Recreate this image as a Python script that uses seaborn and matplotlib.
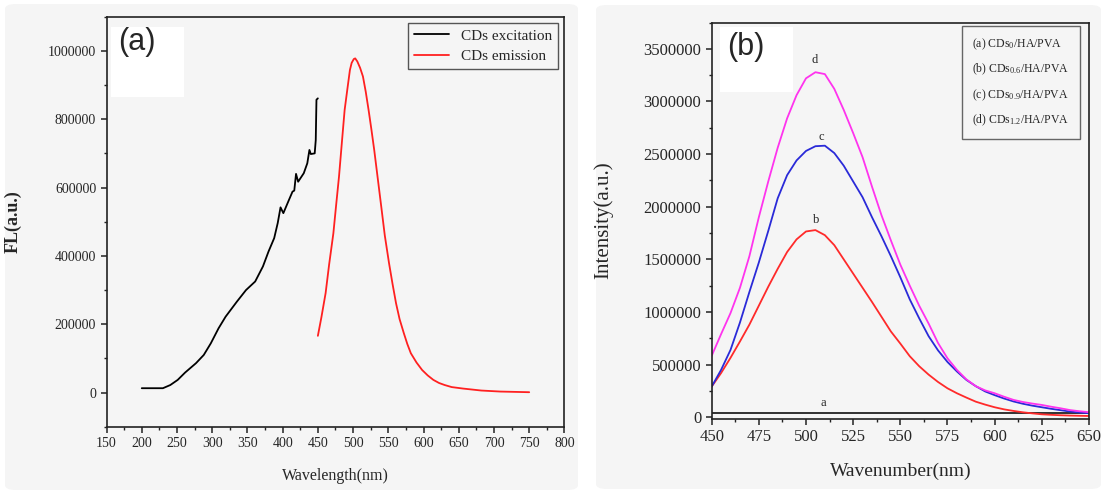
import matplotlib
matplotlib.use("Agg")
import matplotlib.pyplot as plt
from matplotlib.patches import FancyBboxPatch, Rectangle
from matplotlib.ticker import MultipleLocator, FuncFormatter
import seaborn as sns

# panel (a): excitation / emission spectra
exc_wl = [200, 230, 240.5, 251, 261.5, 277, 288, 298, 309, 319, 335, 348, 361, 372,
          380, 388, 393, 397, 401, 409, 414, 416.5, 419, 422, 430, 435, 438, 440,
          445.5, 447, 448, 450]
exc_fl = [12700, 12700, 22000, 37000, 58500, 86000, 110000, 144000, 188000, 222000,
          266000, 300000, 325000, 369000, 413000, 452000, 496000, 542000, 525000,
          564000, 588000, 591000, 640000, 617000, 642000, 671000, 710000, 698000,
          700000, 739000, 857000, 861000]
emi_wl = [450, 455, 461, 466, 472, 476, 480, 484, 488, 492, 495.5, 498, 501, 503, 506,
          510, 514, 518, 522, 526, 530, 535, 540, 545, 551, 556, 561, 566, 572, 577,
          582, 590, 598, 606, 614, 622, 630, 640, 656, 682, 709, 750]
emi_fl = [166000, 220000, 291000, 375000, 466000, 550000, 632000, 730000, 827000,
          890000, 944000, 965000, 976000, 978000, 969000, 950000, 925000, 880000,
          827000, 770000, 710000, 627000, 544000, 460000, 379000, 318000, 261000,
          215000, 174000, 142000, 115000, 88000, 66000, 50000, 37000, 28000, 22000,
          16000, 11700, 5900, 2900, 1000]

# panel (b): intensity of the four films, every 5 nm
wn = list(range(450, 651, 5))
int_a = [40000] * len(wn)
int_b = [291000, 420000, 565000, 720000, 880000, 1060000, 1240000, 1410000, 1570000,
         1690000, 1765000, 1778000, 1730000, 1635000, 1500000, 1365000, 1230000,
         1095000, 955000, 815000, 700000, 580000, 485000, 405000, 335000, 275000,
         228000, 187000, 148000, 120000, 95000, 75000, 60000, 47000, 37000, 28000,
         23000, 19000, 16000, 14000, 12000]
int_c = [291000, 450000, 640000, 900000, 1190000, 1470000, 1770000, 2080000, 2300000,
         2440000, 2530000, 2575000, 2580000, 2510000, 2390000, 2240000, 2090000,
         1900000, 1720000, 1530000, 1330000, 1120000, 940000, 770000, 635000, 525000,
         435000, 355000, 295000, 245000, 210000, 178000, 150000, 128000, 110000,
         95000, 80000, 67000, 54000, 45000, 38000]
int_d = [583000, 790000, 990000, 1230000, 1530000, 1900000, 2240000, 2560000, 2840000,
         3060000, 3220000, 3278000, 3260000, 3120000, 2920000, 2700000, 2470000,
         2190000, 1920000, 1680000, 1450000, 1250000, 1060000, 890000, 705000, 560000,
         450000, 360000, 295000, 255000, 228000, 195000, 165000, 145000, 130000,
         117000, 100000, 85000, 68000, 57000, 48000]
legend_b = ["(a) CDs$_{0}$/HA/PVA", "(b) CDs$_{0.6}$/HA/PVA",
            "(c) CDs$_{0.9}$/HA/PVA", "(d) CDs$_{1.2}$/HA/PVA"]

sns.set_style("ticks")
plt.rcParams["font.family"] = ["Liberation Serif", "DejaVu Serif"]
plt.rcParams["mathtext.default"] = "regular"

bg = "#f5f5f5"
fig = plt.figure(figsize=(11.03, 4.94), dpi=100)
fig.patch.set_facecolor("white")
fig.patches.append(FancyBboxPatch((5 / 1103, 4 / 494), 573 / 1103, 486 / 494,
                                  boxstyle="round,pad=0,rounding_size=0.01",
                                  transform=fig.transFigure, fc=bg, ec="none", zorder=-10))
fig.patches.append(FancyBboxPatch((596 / 1103, 5 / 494), 505 / 1103, 484 / 494,
                                  boxstyle="round,pad=0,rounding_size=0.01",
                                  transform=fig.transFigure, fc=bg, ec="none", zorder=-10))

ax1 = fig.add_axes([0.0966, 0.1362, 0.4151, 0.830])
ax2 = fig.add_axes([0.6452, 0.1528, 0.3421, 0.8016])

plain = FuncFormatter(lambda v, p: f"{v:.0f}")
for ax in (ax1, ax2):
    ax.set_facecolor(bg)
    for s in ax.spines.values():
        s.set_linewidth(1.2)
        s.set_color("#222222")
    ax.tick_params(which="major", direction="out", length=4, width=1.1, color="#222222")
    ax.tick_params(which="minor", direction="out", length=2.5, width=1.0, color="#222222")
    ax.yaxis.set_major_formatter(plain)

# ---- (a)
sns.lineplot(x=exc_wl, y=exc_fl, ax=ax1, color="black", lw=1.3, label="CDs excitation")
sns.lineplot(x=emi_wl, y=emi_fl, ax=ax1, color="#ff2020", lw=1.3, label="CDs emission")
ax1.set_xlim(150, 800)
ax1.set_ylim(-100000, 1100000)
ax1.set_xticks(range(150, 801, 50))
ax1.set_yticks(range(0, 1000001, 200000))
ax1.xaxis.set_minor_locator(MultipleLocator(25))
ax1.yaxis.set_minor_locator(MultipleLocator(100000))
ax1.tick_params(labelsize=10)
ax1.set_xlabel("Wavelength(nm)", fontsize=11.5)
ax1.set_ylabel("FL(a.u.)", fontsize=13, fontweight="bold")
ax1.xaxis.set_label_coords(0.5, -0.1)
ax1.yaxis.set_label_coords(-0.185, 0.5)
ax1.add_patch(Rectangle((0.01, 0.804), 0.16, 0.17, transform=ax1.transAxes,
                        fc="white", ec="none", zorder=0))
ax1.text(0.025, 0.975, "(a)", transform=ax1.transAxes, fontsize=22,
         family="Liberation Sans", va="top", ha="left")
leg1 = ax1.legend(loc="upper right", bbox_to_anchor=(0.987, 0.985), borderaxespad=0,
                  fontsize=11, handlelength=2.3, labelspacing=0.45, fancybox=False,
                  frameon=True, edgecolor="#555555", facecolor=bg, framealpha=1)
leg1.get_frame().set_linewidth(1.0)

# ---- (b)
sns.lineplot(x=wn, y=int_a, ax=ax2, color="#222222", lw=1.3, label=legend_b[0])
sns.lineplot(x=wn, y=int_b, ax=ax2, color="#ff2a2a", lw=1.3, label=legend_b[1])
sns.lineplot(x=wn, y=int_c, ax=ax2, color="#2a2ad8", lw=1.3, label=legend_b[2])
sns.lineplot(x=wn, y=int_d, ax=ax2, color="#ff33ee", lw=1.3, label=legend_b[3])
ax2.set_xlim(450, 650)
ax2.set_ylim(-12000, 3750000)
ax2.set_xticks(range(450, 651, 25))
ax2.set_yticks(range(0, 3500001, 500000))
ax2.xaxis.set_minor_locator(MultipleLocator(12.5))
ax2.yaxis.set_minor_locator(MultipleLocator(250000))
ax2.tick_params(labelsize=12)
ax2.set_xlabel("Wavenumber(nm)", fontsize=14)
ax2.set_ylabel("Intensity(a.u.)", fontsize=15)
ax2.xaxis.set_label_coords(0.5, -0.112)
ax2.yaxis.set_label_coords(-0.262, 0.5)
for lab, xx, yy in [("d", 504.4, 3390000), ("c", 508, 2660000),
                    ("b", 505.6, 1875000), ("a", 509, 133000)]:
    ax2.text(xx, yy, lab, fontsize=9, ha="center", va="center")
ax2.add_patch(Rectangle((0.022, 0.825), 0.193, 0.164, transform=ax2.transAxes,
                        fc="white", ec="none", zorder=0))
ax2.text(0.04, 0.975, "(b)", transform=ax2.transAxes, fontsize=22,
         family="Liberation Sans", va="top", ha="left")
leg2 = ax2.legend(loc="upper right", bbox_to_anchor=(0.976, 0.992), borderaxespad=0,
                  fontsize=8.5, handlelength=0, handletextpad=0, labelspacing=0.85,
                  fancybox=False, frameon=True, edgecolor="#666666", facecolor=bg,
                  framealpha=1, borderpad=0.9)
leg2.get_frame().set_linewidth(1.0)

fig.savefig("out.png", dpi=100, facecolor="white")
